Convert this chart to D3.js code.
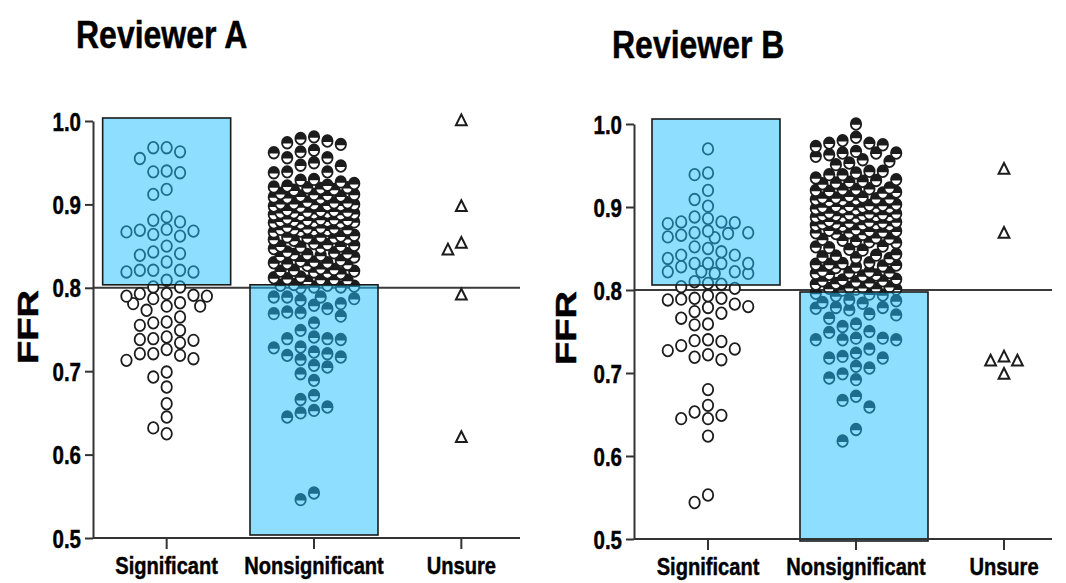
<!DOCTYPE html>
<html>
<head>
<meta charset="utf-8">
<script src="https://cdn.jsdelivr.net/npm/d3@7"></script>
<style>
  html, body { margin: 0; padding: 0; background: #fff; }
  svg text { font-family: "Liberation Sans", Arial, Helvetica, sans-serif; font-weight: bold; fill: #000; stroke: #000; stroke-width: 0.45px; }
</style>
</head>
<body>
<svg id="chart" width="1066" height="583"></svg>
<script>
// ---- data -------------------------------------------------------------
const categories = ["Significant", "Nonsignificant", "Unsure"];
const yTicks = [0.5, 0.6, 0.7, 0.8, 0.9, 1.0];
const cutoff = 0.8;
const significantBox = [0.8, 1.0];
const nonsignificantBox = [0.5, 0.8];

const reviewerA_significant = [
  0.955, 0.968, 0.963, 0.968, 0.939, 0.938, 0.940, 0.912, 0.918, 0.879, 0.885, 0.881,
  0.869, 0.867, 0.862, 0.864, 0.868, 0.870, 0.850, 0.843, 0.839, 0.831, 0.841, 0.821,
  0.819, 0.821, 0.819, 0.821, 0.809,
  0.801, 0.801, 0.787, 0.793, 0.790, 0.791, 0.793, 0.790, 0.781, 0.778, 0.773, 0.778,
  0.782, 0.765, 0.758, 0.749, 0.755, 0.759, 0.737, 0.726, 0.738, 0.741, 0.734, 0.739,
  0.721, 0.713, 0.719, 0.721, 0.715, 0.693, 0.699, 0.681, 0.661, 0.645, 0.625, 0.632
];

const reviewerA_nonsignificant = [
  0.981, 0.976, 0.965, 0.972, 0.974, 0.979, 0.962, 0.956, 0.947, 0.946, 0.950, 0.956,
  0.963, 0.939, 0.939, 0.938, 0.930, 0.923, 0.925, 0.927, 0.929,
  0.921, 0.919, 0.920, 0.918, 0.922, 0.917, 0.920,
  0.912, 0.910, 0.908, 0.911, 0.909, 0.913, 0.907, 0.910, 0.912,
  0.902, 0.900, 0.899, 0.901, 0.903, 0.898, 0.900, 0.902, 0.897, 0.901, 0.899,
  0.891, 0.889, 0.890, 0.892, 0.888, 0.890, 0.887, 0.891, 0.889, 0.893, 0.890, 0.888, 0.892,
  0.881, 0.879, 0.880, 0.882, 0.878, 0.880, 0.883, 0.877, 0.881, 0.879, 0.880, 0.882, 0.878,
  0.871, 0.869, 0.870, 0.872, 0.868, 0.870, 0.873, 0.867, 0.871, 0.869, 0.870,
  0.861, 0.859, 0.860, 0.862, 0.858, 0.860, 0.863, 0.857, 0.861,
  0.851, 0.849, 0.850, 0.852, 0.848, 0.850, 0.853, 0.847,
  0.841, 0.839, 0.840, 0.842, 0.838, 0.840, 0.843, 0.837,
  0.831, 0.829, 0.830, 0.832, 0.828, 0.830, 0.833, 0.827,
  0.821, 0.819, 0.820, 0.822, 0.818, 0.820, 0.823, 0.817,
  0.811, 0.809, 0.810, 0.812, 0.808, 0.810, 0.813,
  0.801, 0.803, 0.800, 0.802, 0.804, 0.801, 0.803,
  0.789, 0.787, 0.779, 0.775, 0.789, 0.781, 0.785, 0.789, 0.771, 0.769, 0.766, 0.770,
  0.758, 0.749, 0.741, 0.739, 0.738, 0.739, 0.728, 0.721, 0.723, 0.729, 0.719, 0.714,
  0.717, 0.705, 0.697, 0.707, 0.689, 0.671, 0.666, 0.657, 0.650, 0.645, 0.653, 0.546, 0.554
];

const reviewerA_unsure = [1.000, 0.897, 0.845, 0.853, 0.791, 0.620];

const reviewerB_significant = [
  0.970, 0.939, 0.941, 0.920, 0.909, 0.901, 0.888, 0.882, 0.881, 0.886, 0.880, 0.882,
  0.864, 0.871, 0.868, 0.866, 0.869, 0.869, 0.863, 0.852, 0.846, 0.842, 0.850, 0.842,
  0.838, 0.832, 0.832, 0.832, 0.828, 0.832, 0.822, 0.822, 0.820, 0.820, 0.822, 0.810,
  0.807, 0.804,
  0.802, 0.808, 0.788, 0.793, 0.790, 0.789, 0.790, 0.780, 0.774, 0.766, 0.772, 0.758,
  0.779, 0.783, 0.759, 0.738, 0.729, 0.740, 0.722, 0.739, 0.716, 0.719, 0.727, 0.733,
  0.680, 0.661, 0.645, 0.649, 0.653, 0.645, 0.624, 0.544, 0.553
];

const reviewerB_nonsignificant = [
  1.000, 0.984, 0.977, 0.973, 0.977, 0.980, 0.975, 0.967, 0.961, 0.957, 0.965, 0.965,
  0.965, 0.963, 0.951, 0.953, 0.955, 0.943, 0.933, 0.939, 0.941, 0.939, 0.935, 0.943,
  0.931, 0.928, 0.930, 0.932, 0.929,
  0.922, 0.919, 0.921, 0.918, 0.923, 0.920, 0.917, 0.921,
  0.911, 0.909, 0.912, 0.908, 0.910, 0.913, 0.907, 0.911, 0.909, 0.910,
  0.901, 0.899, 0.902, 0.898, 0.900, 0.903, 0.897, 0.901, 0.899, 0.900, 0.902, 0.898,
  0.891, 0.889, 0.892, 0.888, 0.890, 0.893, 0.887, 0.891, 0.889, 0.890, 0.892, 0.888, 0.890,
  0.881, 0.879, 0.882, 0.878, 0.880, 0.883, 0.877, 0.881, 0.879, 0.880, 0.882, 0.878,
  0.871, 0.869, 0.872, 0.868, 0.870, 0.873, 0.867, 0.871, 0.869,
  0.861, 0.859, 0.862, 0.858, 0.860, 0.863, 0.857,
  0.851, 0.848, 0.852, 0.849, 0.853,
  0.841, 0.839, 0.842, 0.838, 0.840, 0.843,
  0.831, 0.829, 0.832, 0.828, 0.830, 0.833, 0.827, 0.831,
  0.821, 0.819, 0.822, 0.818, 0.820, 0.823, 0.817, 0.821,
  0.811, 0.809, 0.812, 0.808, 0.810, 0.813, 0.807, 0.811,
  0.801, 0.803, 0.800, 0.802, 0.804, 0.801, 0.803, 0.802,
  0.796, 0.794, 0.787, 0.784, 0.785, 0.788, 0.793, 0.795, 0.778, 0.776, 0.770, 0.766,
  0.771, 0.779, 0.779, 0.756, 0.749, 0.740, 0.742, 0.742, 0.750, 0.759, 0.740, 0.740,
  0.729, 0.724, 0.718, 0.718, 0.720, 0.708, 0.706, 0.699, 0.692, 0.694, 0.672, 0.667,
  0.659, 0.632, 0.618
];

const reviewerB_unsure = [0.945, 0.868, 0.714, 0.698, 0.714, 0.719];

// ---- layout -----------------------------------------------------------
const panels = [
  { title: "Reviewer A", titleX: 76, titleY: 48, titleSize: 39,
    axisX: 93, axisEnd: 520, yRange: [538, 121], band: [93, 535],
    boxShift: 0, sigNudge: -3, nonNudge: -3, ffrX: 38, ffrY: 327,
    groups: [reviewerA_significant, reviewerA_nonsignificant, reviewerA_unsure] },
  { title: "Reviewer B", titleX: 612, titleY: 58, titleSize: 39,
    axisX: 634, axisEnd: 1052, yRange: [539, 124], band: [634, 1078],
    boxShift: 8, sigNudge: -5, nonNudge: 2, ffrX: 576, ffrY: 328,
    groups: [reviewerB_significant, reviewerB_nonsignificant, reviewerB_unsure] }
];

const COL_STEP = 13.4, MAX_COL = 3, MIN_DIST = 12;
const RX = 5.2, RY = 5.8;
const INK = "#1c1c1c";
const NARROW = 0.82;

const svg = d3.select("#chart");

// squeeze a text element horizontally to mimic a condensed face
function condense(sel, factor) {
  sel.each(function () {
    const w = this.getComputedTextLength();
    d3.select(this).attr("textLength", w * factor).attr("lengthAdjust", "spacingAndGlyphs");
  });
}

// dot layout: whole columns first, half columns when crowded,
// overlap where there is no free slot left
function swarm(values, y, cx) {
  const order = values.map((v, i) => i).sort((a, b) => values[b] - values[a]);
  const cand = [0];
  for (let k = 1; k <= MAX_COL; k++) cand.push(-k, k);
  for (let k = 0.5; k < MAX_COL; k += 1) cand.push(-k, k);
  const placed = [];
  order.forEach(i => {
    const py = y(values[i]);
    let best = 0, bestGap = -1;
    for (const c of cand) {
      const px = c * COL_STEP;
      let gap = Infinity;
      for (const q of placed) {
        if (Math.abs(q.y - py) > MIN_DIST) continue;
        gap = Math.min(gap, Math.hypot(q.dx - px, q.y - py));
      }
      if (gap >= MIN_DIST) { best = c; bestGap = gap; break; }
      if (gap > bestGap) { bestGap = gap; best = c; }
    }
    placed.push({ v: values[i], dx: best * COL_STEP, x: cx + best * COL_STEP, y: py });
  });
  // lower values first so higher dots sit on top
  return placed.sort((a, b) => a.v - b.v);
}

// upper half filled marker (a little more than half is dark)
const hh = RY * 0.15, hx = RX * Math.sqrt(1 - (hh / RY) ** 2);
const halfPath = `M${-hx},${hh} A${RX},${RY} 0 1 1 ${hx},${hh} Z`;
const triPath = "M0,-6.6 L5.4,4.2 L-5.4,4.2 Z";

panels.forEach(p => {
  const g = svg.append("g");
  const y = d3.scaleLinear().domain([0.5, 1.0]).range(p.yRange);
  const x = d3.scaleBand().domain(categories).range(p.band);
  const cx = c => x(c) + x.bandwidth() / 2;
  const boxW = 128;

  // title
  g.append("text").attr("x", p.titleX).attr("y", p.titleY)
    .style("font-size", p.titleSize + "px").text(p.title).call(condense, NARROW);

  // y label
  g.append("text")
    .attr("transform", `translate(${p.ffrX},${p.ffrY}) rotate(-90)`)
    .attr("text-anchor", "middle").style("font-size", "29px")
    .text("FFR").attr("textLength", 74).attr("lengthAdjust", "spacingAndGlyphs");

  // reference line at the cutoff
  g.append("line")
    .attr("x1", p.axisX).attr("x2", p.axisEnd)
    .attr("y1", y(cutoff)).attr("y2", y(cutoff))
    .attr("stroke", "#3a3a3a").attr("stroke-width", 2);

  // dots
  const [sigVals, nonVals, unsVals] = p.groups;
  const sigPts = swarm(sigVals, y, cx("Significant"));
  const nonPts = swarm(nonVals, y, cx("Nonsignificant"));
  const unsPts = swarm(unsVals, y, cx("Unsure"));

  g.append("g").selectAll("ellipse").data(sigPts).join("ellipse")
    .attr("cx", d => d.x).attr("cy", d => d.y).attr("rx", RX).attr("ry", RY)
    .attr("fill", "#fff").attr("stroke", INK).attr("stroke-width", 1.8);

  const nonG = g.append("g").selectAll("g").data(nonPts).join("g")
    .attr("transform", d => `translate(${d.x},${d.y})`);
  nonG.append("ellipse").attr("rx", RX).attr("ry", RY)
    .attr("fill", "#fff").attr("stroke", INK).attr("stroke-width", 1.8);
  nonG.append("path").attr("d", halfPath).attr("fill", INK);

  g.append("g").selectAll("path").data(unsPts).join("path")
    .attr("transform", d => `translate(${d.x},${d.y})`)
    .attr("d", triPath).attr("fill", "#fff").attr("stroke", INK)
    .attr("stroke-width", 2).attr("stroke-linejoin", "miter");

  // translucent category boxes laid over the dots
  const boxes = [
    { cat: "Significant", range: significantBox, nudge: p.sigNudge },
    { cat: "Nonsignificant", range: nonsignificantBox, nudge: p.nonNudge }
  ];
  boxes.forEach(b => {
    const x0 = cx(b.cat) + p.boxShift - boxW / 2;
    const yTop = y(b.range[1]) + b.nudge, yBot = y(b.range[0]) + b.nudge;
    g.append("rect").attr("x", x0).attr("y", yTop).attr("width", boxW).attr("height", yBot - yTop)
      .attr("fill", "rgb(30,190,255)").attr("fill-opacity", 0.5);
    g.append("rect").attr("x", x0).attr("y", yTop).attr("width", boxW).attr("height", yBot - yTop)
      .attr("fill", "none").attr("stroke", "#1a1a1a").attr("stroke-width", 1.6);
  });

  // axes
  const yAxis = d3.axisLeft(y).tickValues(yTicks).tickFormat(d3.format(".1f"))
    .tickSize(8).tickSizeOuter(0).tickPadding(4);
  const ya = g.append("g").attr("transform", `translate(${p.axisX},0)`).call(yAxis);
  ya.select(".domain").attr("stroke", "#333").attr("stroke-width", 2);
  ya.selectAll(".tick line").attr("stroke", "#333").attr("stroke-width", 2);
  ya.selectAll(".tick text").style("font-size", "25px").attr("font-family", null)
    .attr("dy", "0.36em").call(condense, NARROW);

  const xAxis = d3.axisBottom(x).tickSize(11).tickSizeOuter(0).tickPadding(6);
  const xa = g.append("g").attr("transform", `translate(0,${p.yRange[0]})`).call(xAxis);
  xa.select(".domain").remove();
  xa.append("line").attr("x1", p.axisX).attr("x2", p.axisEnd)
    .attr("stroke", "#333").attr("stroke-width", 2);
  xa.selectAll(".tick line").attr("stroke", "#333").attr("stroke-width", 2);
  xa.selectAll(".tick text").style("font-size", "24.5px").attr("dy", "0.78em")
    .call(condense, NARROW);
  svg.selectAll("text").attr("fill", "#000");
});
</script>
</body>
</html>
